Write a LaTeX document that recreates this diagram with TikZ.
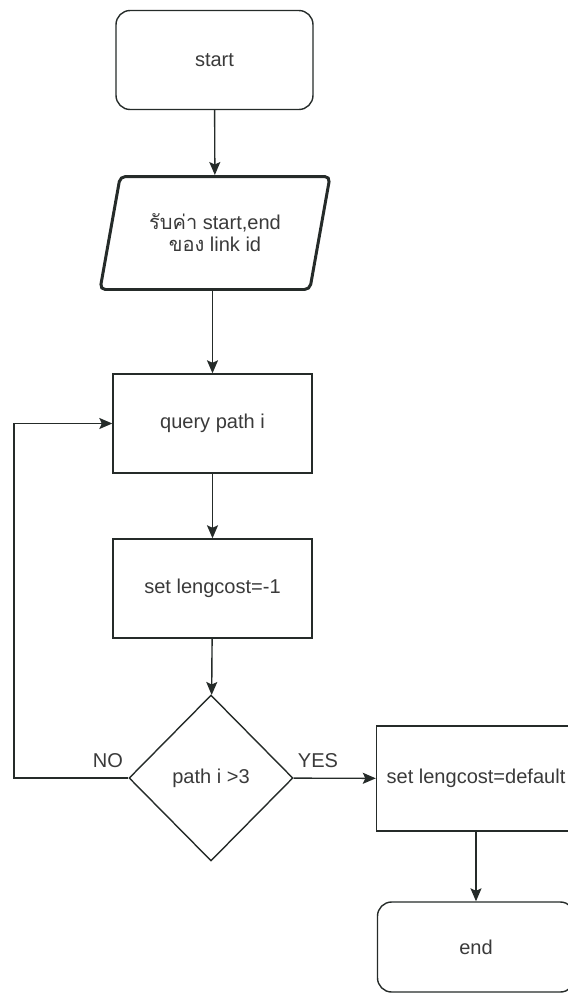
\documentclass[tikz,border=0pt]{standalone}
\usepackage{fontspec}
\setmainfont{Liberation Sans}
\newfontfamily\thaifont[Script=Thai]{Loma}
\usetikzlibrary{positioning}
\usetikzlibrary{shapes.geometric}
\usetikzlibrary{arrows.meta}
\definecolor{ink}{HTML}{252B29}
\definecolor{txt}{HTML}{3A3A3A}
\tikzset{
	every node/.style = {font=\fontsize{11.4}{12.5}\selectfont, text=txt},
	startstop/.style = {draw=ink, line width=0.8pt, rectangle, rounded corners=8pt, minimum width=3.94cm, minimum height=1.98cm},
	io/.style = {draw=ink, line width=1.7pt, trapezium, trapezium left angle=68, trapezium right angle=112, trapezium stretches body, rounded corners=3pt, minimum width=4.6cm, minimum height=2.26cm, align=center},
	process/.style = {draw=ink, line width=0.8pt, rectangle, minimum width=3.98cm, minimum height=1.98cm},
	decision/.style = {draw=ink, line width=0.8pt, diamond, minimum width=3.28cm, minimum height=3.32cm, inner sep=0pt},
	flow/.style = {draw=ink, line width=0.8pt, -{Stealth[length=0.26cm, width=0.22cm, inset=0.05cm]}}
}

\begin{document}
\begin{tikzpicture}[x=0.02cm, y=-0.02cm]
		\clip (0,0) rectangle (568,995);
		% nodes
		\node[startstop] (start) at (214.5,60) {start};
		\node[io] (input) at (215,233) {{\thaifont รับค่า} start,end\\{\thaifont ของ} link id};
		\node[process] (query) at (212.5,423.5) {query path i};
		\node[process] (setneg) at (212.5,588.5) {set lengcost=-1};
		\node[decision] (cond) at (211,778) {path i >3};
		\node[process, minimum height=2.1cm] (setdef) at (476,778.5) {set lengcost=default};
		\node[startstop, minimum height=1.8cm] (stop) at (476,947) {end};
		\coordinate (back) at (14,778);
		
		% connectors
		\draw[flow] (start) -- (input);
		\draw[flow] (input.south -| query.north) -- (query);
		\draw[flow] (query) -- (setneg);
		\draw[flow] (setneg) -- (cond);
		\draw[flow] (cond) -- (setdef);
		\draw[flow] (setdef) -- (stop);
		\draw[flow] (cond.west) -- (back) |- (query.west);
		
		% labels
		\node (no) at (108,761) {NO};
		\node (yes) at (318,761) {YES};
	\end{tikzpicture}
\end{document}
